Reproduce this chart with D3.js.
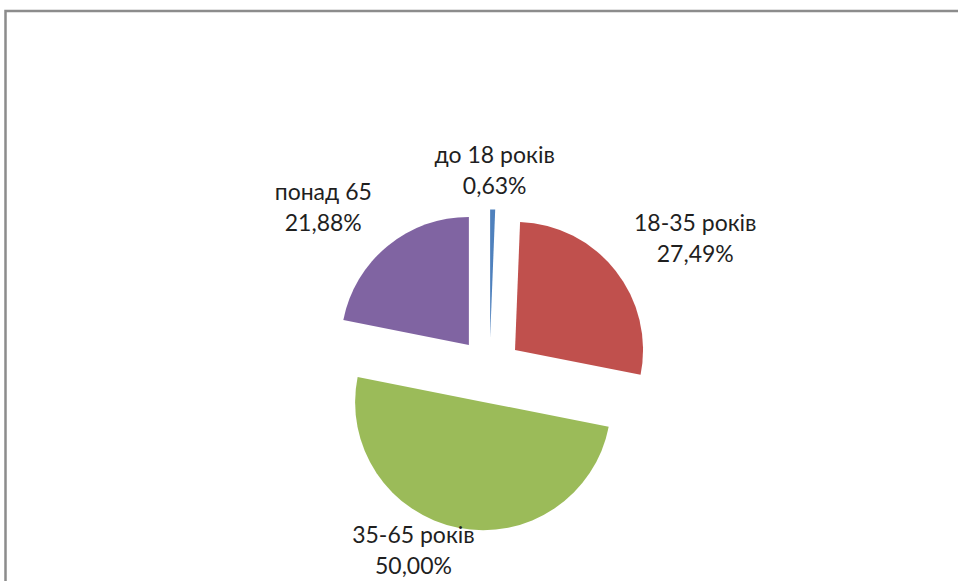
<!DOCTYPE html>
<html>
<head>
<meta charset="utf-8">
<script src="https://cdn.jsdelivr.net/npm/d3@7"></script>
<style>
  html, body { margin: 0; padding: 0; background: #fff; }
  svg { display: block; }
</style>
</head>
<body>
<div id="chart"></div>
<script>
// ---- Data ----
const categories = ["до 18 років", "18-35 років", "35-65 років", "понад 65"];
const shares = [0.63, 27.49, 50.00, 21.88];
const percentLabels = ["0,63%", "27,49%", "50,00%", "21,88%"];
const colors = ["#4F81BD", "#C0504D", "#9BBB59", "#8064A2"];

const W = 958, H = 581;
const cx = 489.5, cy = 370;
const radius = 128;
const explode = 32.5;
const labelRadius = 200;
const lineGap = 31;
// small tweaks where Excel pushed a label to fit the chart area
const labelShift = [[0, 8], [0, 0], [-25, -8], [0, 0]];

const svg = d3.select("#chart").append("svg")
  .attr("width", W).attr("height", H);

// chart area border (runs off the right and bottom edges)
svg.append("rect")
  .attr("x", 5.5).attr("y", 11)
  .attr("width", W + 20).attr("height", H + 20)
  .attr("fill", "none")
  .attr("stroke", "#8c8c8c")
  .attr("stroke-width", 2.5);

const pie = d3.pie().sort(null).value(d => d)(shares);
const arc = d3.arc().innerRadius(0).outerRadius(radius);

const g = svg.append("g").attr("transform", `translate(${cx},${cy})`);

// ---- Exploded slices ----
g.selectAll("path.slice")
  .data(pie)
  .join("path")
  .attr("class", "slice")
  .attr("d", arc)
  .attr("fill", (d, i) => colors[i])
  .attr("transform", d => {
    const a = (d.startAngle + d.endAngle) / 2;
    return `translate(${explode * Math.sin(a)},${-explode * Math.cos(a)})`;
  });

// ---- Labels ----
const labels = g.selectAll("text.lbl")
  .data(pie)
  .join("text")
  .attr("class", "lbl")
  .attr("text-anchor", "middle")
  .style("font-family", "Lato, 'Open Sans', sans-serif")
  .style("font-size", "23px")
  .style("fill", "#1f1f1f")
  .attr("transform", (d, i) => {
    const a = (d.startAngle + d.endAngle) / 2;
    const halfW = 62;
    const x = labelRadius * Math.sin(a) + halfW * Math.sin(a) + labelShift[i][0];
    const y = -labelRadius * Math.cos(a) + labelShift[i][1];
    return `translate(${x},${y})`;
  });

labels.append("tspan")
  .attr("x", 0).attr("y", -lineGap / 2)
  .text((d, i) => categories[i]);
labels.append("tspan")
  .attr("x", 0).attr("y", lineGap / 2)
  .text((d, i) => percentLabels[i]);
</script>
</body>
</html>
